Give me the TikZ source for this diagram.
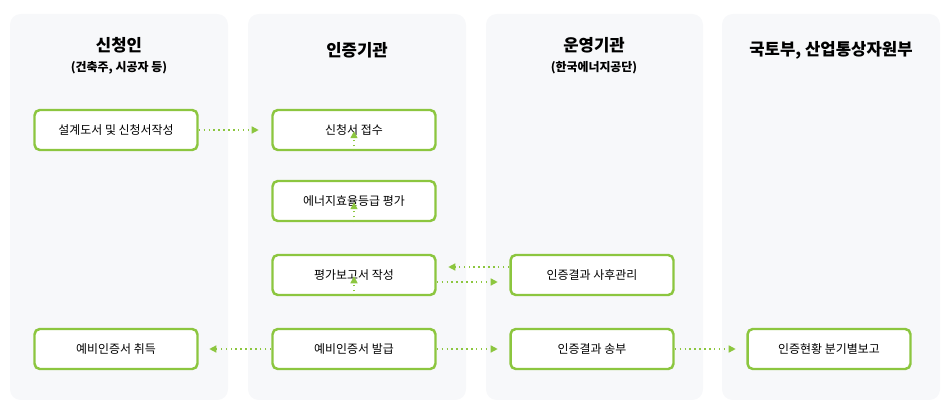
\documentclass[tikz,border=0pt]{standalone}
\usepackage{fontspec}
\setmainfont{Noto Sans CJK KR}
\usetikzlibrary{arrows.meta}
\definecolor{panelgray}{HTML}{F7F8FA}
\definecolor{leafgreen}{HTML}{8CC63F}
\tikzstyle{panel} = [fill=panelgray, rounded corners=6pt]
\tikzstyle{block} = [draw=leafgreen, line width=1.4pt, rounded corners=3pt, fill=white,
    minimum width=3.26cm, minimum height=0.8cm, font=\fontsize{6.8}{8}\selectfont]
\tikzstyle{head} = [font=\bfseries\fontsize{9.5}{11}\selectfont]
\tikzstyle{subhead} = [font=\bfseries\fontsize{6.8}{8}\selectfont]
\tikzstyle{flow} = [draw=leafgreen, line width=0.8pt, dotted, -{Triangle[length=4pt,width=4pt]}]
\begin{document}
\begin{tikzpicture}[x=0.02cm, y=-0.02cm]
    \useasboundingbox (0,0) rectangle (950,411);
    % We start by placing the column panels
    \fill [panel] (10,14) rectangle (228,400);
    \fill [panel] (248,14) rectangle (466,400);
    \fill [panel] (486,14) rectangle (703,400);
    \fill [panel] (722,14) rectangle (940,400);
    \node [head] (h1) at (119,45) {신청인};
    \node [subhead] (s1) at (119,68) {(건축주, 시공자 등)};
    \node [head] (h2) at (357,50) {인증기관};
    \node [head] (h3) at (594,45) {운영기관};
    \node [subhead] (s3) at (594,68) {(한국에너지공단)};
    \node [head] (h4) at (831,50) {국토부, 산업통상자원부};

    % Then the blocks
    \node [block] (design) at (116,130) {설계도서 및 신청서작성};
    \node [block] (receipt) at (354,130) {신청서 접수};
    \node [block] (rating) at (354,201) {에너지효율등급 평가};
    \node [block] (report) at (354,275) {평가보고서 작성};
    \node [block] (issue) at (354,349) {예비인증서 발급};
    \node [block] (obtain) at (116,349) {예비인증서 취득};
    \node [block] (manage) at (592,275) {인증결과 사후관리};
    \node [block] (send) at (592,349) {인증결과 송부};
    \node [block] (status) at (829,349) {인증현황 분기별보고};

    % Once the nodes are placed, connecting them is easy.
    \draw [flow] (design.east) -- ++(60,0);
    \draw [flow] (receipt.south) -- ++(0,-20);
    \draw [flow] (rating.south) -- ++(0,-20);
    \draw [flow] (report.south) -- ++(0,-20);
    \draw [flow] ([yshift=0.16cm]manage.west) -- ++(-61,0);
    \draw [flow] ([yshift=-0.14cm]report.east) -- ++(61,0);
    \draw [flow] (issue.west) -- ++(-62,0);
    \draw [flow] (issue.east) -- ++(61,0);
    \draw [flow] (send.east) -- ++(61,0);
\end{tikzpicture}
\end{document}
